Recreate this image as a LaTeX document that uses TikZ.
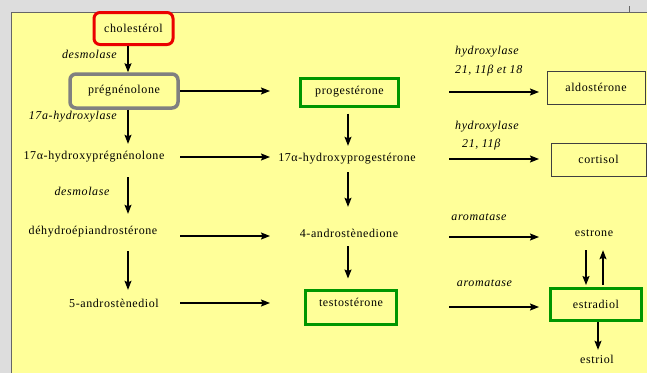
\documentclass[tikz,border=0pt]{standalone}
\usepackage{fontspec}
\setmainfont{Liberation Serif}[LetterSpace=5]
\usetikzlibrary{arrows.meta, positioning, calc}

\definecolor{panel}{RGB}{255,255,153}
\definecolor{window}{RGB}{221,221,221}
\definecolor{boxred}{RGB}{235,0,0}
\definecolor{boxgray}{RGB}{128,128,128}
\definecolor{boxgreen}{RGB}{0,150,0}

\begin{document}
\begin{tikzpicture}[
    x=1pt, y=-1pt,
    font=\fontsize{12}{14}\selectfont,
    molecule/.style={inner sep=2pt, minimum height=26pt, text centered},
    enzyme/.style={inner sep=1pt, font=\fontsize{12}{14}\selectfont\itshape},
    source/.style={rectangle, rounded corners=6pt, minimum width=79pt, minimum height=32pt, text centered, draw=boxred, line width=3pt},
    precursor/.style={rectangle, rounded corners=6pt, minimum width=108pt, minimum height=34pt, text centered, draw=boxgray, line width=3.5pt},
    hormone/.style={rectangle, minimum width=98pt, minimum height=28pt, text centered, draw=boxgreen, line width=3pt},
    product/.style={rectangle, minimum width=98pt, minimum height=33pt, text centered, draw=black!75, line width=1pt},
    arrow/.style={line width=1.2pt, ->, >={Stealth[length=9pt, width=7pt, inset=1.5pt]}}
]

% window and panel
\useasboundingbox (0,0) rectangle (647,373);
\fill [window] (0,0) rectangle (647,373);
\fill [panel] (11,12) rectangle (647,373);
\draw [black!60, line width=0.8pt] (647,12) -- (11,12) -- (11,373);
\draw [black!60, line width=0.8pt] (629,6) -- (629,12);

% arrow columns
\coordinate (colA) at (128,0);
\coordinate (outA) at (180,0);
\coordinate (inB) at (270,0);
\coordinate (colB) at (348,0);
\coordinate (outB) at (449,0);
\coordinate (inC) at (539,0);
\coordinate (down) at (586,0);
\coordinate (up) at (603,0);
\coordinate (colC) at (598,0);

% molecules
\node (chol) [source] at (133.5,28.5) {cholestérol};
\node (preg) [precursor] at (124,91) {prégnénolone};
\node (hpreg) [molecule] at (94,157) {17α-hydroxyprégnénolone};
\node (dhea) [molecule] at (93,232) {déhydroépiandrostérone};
\node (adiol) [molecule] at (114,303) {5-androstènediol};

\node (prog) [hormone] at (349.5,92) {progestérone};
\node (hprog) [molecule] at (347,159) {17α-hydroxyprogestérone};
\node (andro) [molecule] at (349,233) {4-androstènedione};
\node (testo) [hormone, minimum width=91pt, minimum height=0pt, inner ysep=8pt, text height=8pt, text depth=10pt] at (351,307) {testostérone};

\node (aldo) [product] at (596,87.5) {aldostérone};
\node (cort) [product, minimum width=95pt] at (598.5,159.5) {cortisol};
\node (estrone) [molecule] at (594,233) {estrone};
\node (estradiol) [hormone, minimum width=91pt, minimum height=32pt] at (596,304.5) {estradiol};
\node (estriol) [molecule, minimum height=18pt] at (597,359) {estriol};

% enzymes
\node (desmo1) [enzyme, anchor=east] at (118,54) {desmolase};
\node (hydro17) [enzyme, anchor=east] at (118,117) {17a-hydroxylase};
\node (desmo2) [enzyme] at (82,191) {desmolase};
\node (hydro1) [enzyme, anchor=west, align=left] at (454,61.5) {hydroxylase\\[5pt]21, 11β et 18};
\node (hydro2) [enzyme, anchor=west, align=left] at (454,136) {hydroxylase\\[4pt]\hspace*{7pt}21, 11β};
\node (aroma1) [enzyme] at (479,217) {aromatase};
\node (aroma2) [enzyme] at (484.5,283) {aromatase};

% vertical arrows
\draw [arrow] (chol.south -| colA) -- (preg.north -| colA);
\draw [arrow] (preg.south -| colA) -- (hpreg.north -| colA);
\draw [arrow, shorten <=7pt, shorten >=5pt] (hpreg.south -| colA) -- (dhea.north -| colA);
\draw [arrow, shorten <=6pt] (dhea.south -| colA) -- (adiol.north -| colA);
\draw [arrow, shorten <=6pt] (prog.south -| colB) -- (hprog.north -| colB);
\draw [arrow, shorten >=13pt] (hprog.south -| colB) -- (andro.north -| colB);
\draw [arrow, shorten >=10pt] (andro.south -| colB) -- (testo.north -| colB);
\draw [arrow, shorten <=4pt, shorten >=2pt] (estrone.south -| down) -- (estradiol.north -| down);
\draw [arrow, shorten <=2pt, shorten >=4pt] (estradiol.north -| up) -- (estrone.south -| up);
\draw [arrow] (estradiol.south -| colC) -- (estriol.north -| colC);

% horizontal arrows
\draw [arrow] (preg -| outA) -- (preg -| inB);
\draw [arrow] (hpreg -| outA) -- (hpreg -| inB);
\draw [arrow] ($(dhea -| outA)+(0,4)$) -- ($(dhea -| inB)+(0,4)$);
\draw [arrow] (adiol -| outA) -- (adiol -| inB);
\draw [arrow] (prog -| outB) -- (prog -| inC);
\draw [arrow] (hprog -| outB) -- (hprog -| inC);
\draw [arrow] ($(andro -| outB)+(0,4)$) -- ($(andro -| inC)+(0,4)$);
\draw [arrow] (testo -| outB) -- (testo -| inC);

\end{tikzpicture}
\end{document}
